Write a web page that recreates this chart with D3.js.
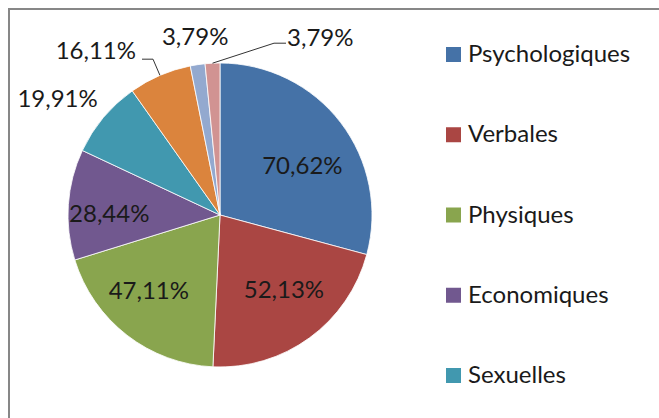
<!DOCTYPE html>
<html>
<head>
<meta charset="utf-8">
<script src="https://cdn.jsdelivr.net/npm/d3@7/dist/d3.min.js"></script>
<style>
  html, body { margin: 0; padding: 0; background: #fff; }
  svg { display: block; }
  text { font-family: Lato, "Open Sans", sans-serif; fill: #1a1a1a; }
</style>
</head>
<body>
<svg id="chart" width="659" height="418"></svg>
<script>
// ---- data ----
const categories = ["Psychologiques", "Verbales", "Physiques", "Economiques", "Sexuelles", "Autres", "Autres (2)", "Autres (3)"];
const values = [70.62, 52.13, 47.11, 28.44, 19.91, 16.11, 3.79, 3.79];
const colors = ["#4572A7", "#AA4643", "#89A54E", "#71588F", "#4198AF", "#DB843D", "#93A9CF", "#D19392"];

// ---- layout (not data) ----
const W = 659, H = 418;
const cx = 220, cy = 215, R = 152;
const fontSize = 24;
const legendFontSize = 24;
// label placement: inside labels at centroid radius, outside at R + pad, with small nudges
const inside = [true, true, true, true, false, false, false, false];
const nudges = [[3, 11], [5, -6], [-10, -4], [-11, 5], [2, -13], [-20, -16], [-1, -18], [75, -16]];
const anchors = ["middle", "middle", "middle", "middle", "end", "end", "middle", "start"];
const leaders = [false, false, false, false, false, true, false, true];

const svg = d3.select("#chart");
const fr = d3.formatLocale({decimal: ",", thousands: " ", grouping: [3], currency: ["", " €"]});
const fmt = v => fr.format(".2f")(v) + "%";

// frame
svg.append("rect")
  .attr("x", 9).attr("y", 9).attr("width", W + 20).attr("height", H + 20)
  .attr("fill", "none").attr("stroke", "#878787").attr("stroke-width", 2);

const data = categories.map((c, i) => ({cat: c, value: values[i], i}));
const pie = d3.pie().value(d => d.value).sort(null);
const arcs = pie(data);
const arc = d3.arc().innerRadius(0).outerRadius(R);
const g = svg.append("g").attr("transform", `translate(${cx},${cy})`);

g.selectAll("path.slice").data(arcs).join("path")
  .attr("class", "slice")
  .attr("d", arc)
  .attr("fill", d => colors[d.data.i])
  .attr("stroke", "#fff").attr("stroke-width", 0.8);

function pt(angle, r) { return [Math.sin(angle) * r, -Math.cos(angle) * r]; }

arcs.forEach((a, i) => {
  const mid = (a.startAngle + a.endAngle) / 2;
  const base = inside[i] ? pt(mid, 100) : pt(mid, R + 10);
  const x = base[0] + nudges[i][0];
  const y = base[1] + nudges[i][1];
  g.append("text")
    .attr("x", x).attr("y", y)
    .attr("dy", "0.36em")
    .attr("text-anchor", anchors[i])
    .attr("font-size", fontSize)
    .text(fmt(values[i]));
  if (leaders[i]) {
    const e = pt(mid, R);
    const left = anchors[i] === "end";
    const endX = left ? x + 6 : x - 1;
    const endY = left ? y + 9 : y + 6;
    const elbowX = left ? endX + 11 : endX - 12;
    g.append("path")
      .attr("d", d3.line()([e, [elbowX, endY], [endX, endY]]))
      .attr("fill", "none").attr("stroke", "#333").attr("stroke-width", 1);
  }
});

// legend
const legY = d3.scalePoint().domain(d3.range(categories.length)).range([47, 47 + 80.25 * (categories.length - 1)]);
const leg = svg.append("g");
data.filter(d => legY(d.i) + 15 < H).forEach(d => {
  leg.append("rect")
    .attr("x", 446).attr("y", legY(d.i)).attr("width", 15).attr("height", 15)
    .attr("fill", colors[d.i]);
  leg.append("text")
    .attr("x", 468).attr("y", legY(d.i) + 15)
    .attr("font-size", legendFontSize)
    .text(d.cat);
});
</script>
</body>
</html>
